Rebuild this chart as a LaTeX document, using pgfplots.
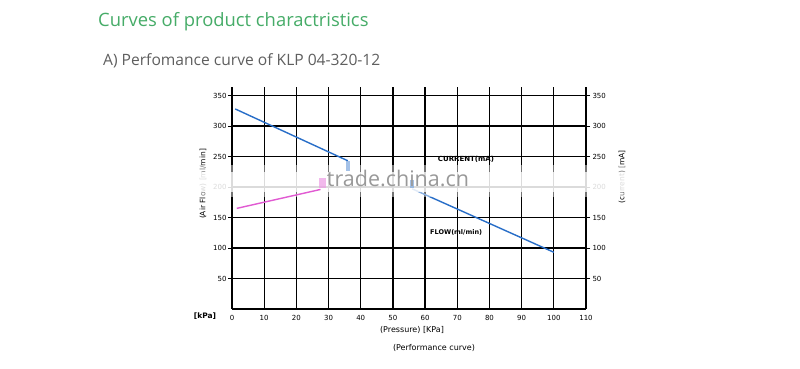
\documentclass[border=0pt]{standalone}
\usepackage{pgfplots}
\pgfplotsset{compat=1.18}
\usepackage{fontspec}
\setmainfont{Open Sans}
\newfontfamily\chartfont{DejaVu Sans}
\definecolor{titlegreen}{RGB}{70,172,104}
\definecolor{subgray}{RGB}{95,95,95}
\definecolor{flowblue}{RGB}{40,110,200}
\definecolor{curpink}{RGB}{225,90,210}
\begin{document}
\begin{tikzpicture}[x=1pt,y=1pt]
\fill[white] (0,0) rectangle (800,369);
\path[use as bounding box] (0,0) rectangle (800,369);
\node[anchor=base west, text=titlegreen, font=\fontsize{18.4}{20}\selectfont, inner sep=0] at (98,342) {Curves of product charactristics};
\node[anchor=base west, text=subgray, font=\fontsize{15.6}{17}\selectfont, inner sep=0] at (103,303) {A) Perfomance curve of KLP 04-320-12};
\begin{axis}[
  at={(232pt,60pt)}, anchor=south west,
  scale only axis, width=354pt, height=222pt,
  xmin=0, xmax=110, ymin=0, ymax=364,
  axis x line=bottom, axis y line=left,
  axis line style={line width=1.3pt, -},
  xtick={0,10,...,110},
  ytick={100,150,200,250,300},
  extra y ticks={50,350},
  extra y tick style={grid style={line width=0.8pt, black!70}},
  xmajorgrids, ymajorgrids,
  major grid style={line width=1.3pt, black},
  tick style={black, line width=0.8pt},
  major tick length=4pt,
  xtick style={draw=none},
  ytick pos=left,
  tick align=outside,
  font=\chartfont\fontsize{7}{8}\selectfont,
  /pgf/number format/assume math mode=true,
  xticklabel style={yshift=1pt},
  yticklabel style={xshift=2pt},
  clip=false,
]
\addplot[flowblue, line width=1.4pt] coordinates {(1,328) (36,243)};
\addplot[flowblue, line width=1.4pt] coordinates {(56,197) (100,93)};
\end{axis}
\begin{axis}[
  at={(232pt,60pt)}, anchor=south west,
  scale only axis, width=354pt, height=222pt,
  xmin=0, xmax=110, ymin=0, ymax=364,
  axis x line=none, axis y line*=right,
  axis line style={draw=none},
  ytick={50,100,...,350},
  tick style={black, line width=0.8pt},
  major tick length=4pt,
  tick align=outside,
  font=\chartfont\fontsize{7}{8}\selectfont,
  /pgf/number format/assume math mode=true,
  yticklabel style={xshift=-1pt},
]
\addplot[draw=none] coordinates {(0,0)};
\end{axis}
% text labels in chart
\node[font=\chartfont\fontsize{7}{8}\selectfont\bfseries, inner sep=0] at (466,210) {CURRENT(mA)};
\node[font=\chartfont\fontsize{6.5}{8}\selectfont\bfseries, inner sep=0, anchor=west] at (430,137) {FLOW(ml/min)};
\node[font=\chartfont\fontsize{7.5}{8}\selectfont, rotate=90] at (203,185) {(Air Flow) [ml/min]};
\node[font=\chartfont\fontsize{7.5}{8}\selectfont, rotate=90] at (622,192) {(current) [mA]};
\node[font=\chartfont\fontsize{7.5}{8}\selectfont\bfseries, inner sep=0] at (205,53) {[kPa]};
\node[font=\chartfont\fontsize{8}{9}\selectfont, inner sep=0] at (412,39) {(Pressure) [KPa]};
\node[font=\chartfont\fontsize{8}{9}\selectfont, inner sep=0] at (434,21) {(Performance curve)};
% watermark band
\fill[white, opacity=0.45] (190,172) rectangle (640,204);
\fill[white, opacity=0.75] (190,177) rectangle (640,197);
\begin{axis}[
  at={(232pt,60pt)}, anchor=south west,
  scale only axis, width=354pt, height=222pt,
  xmin=0, xmax=110, ymin=0, ymax=364,
  hide axis, clip=false,
]
\addplot[curpink, line width=1.4pt] coordinates {(1.5,165) (27.5,196)};
\addplot[flowblue!60, line width=4pt, opacity=0.7] coordinates {(36,242) (36,226)};
\addplot[flowblue!60, line width=4pt, opacity=0.7] coordinates {(56,198) (56,212)};
\addplot[curpink!60, line width=7pt, opacity=0.7] coordinates {(28,198) (28,214)};
\end{axis}
\node[text=black!40, font=\fontsize{21.5}{22}\selectfont, inner sep=0] at (398,191) {trade.china.cn};
\end{tikzpicture}
\end{document}
